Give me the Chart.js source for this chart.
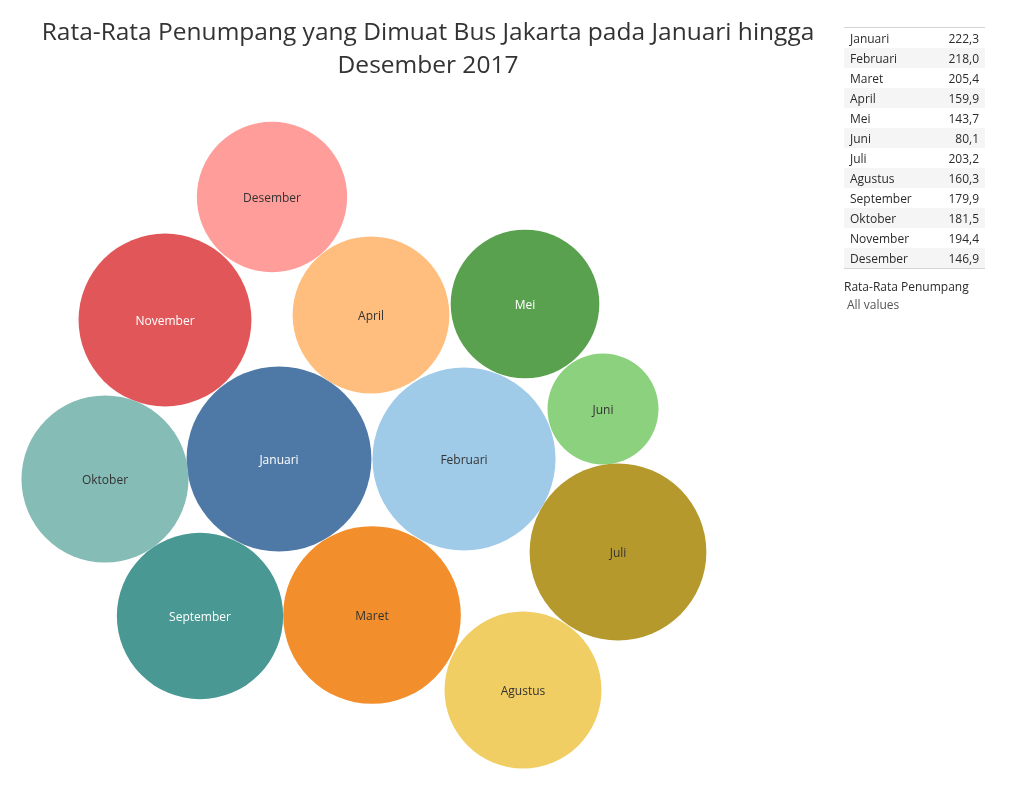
<!DOCTYPE html>
<html>
<head>
  <title>Rata-Rata Penumpang Bus Jakarta 2017</title>
  <script src="https://cdn.jsdelivr.net/npm/chart.js"></script>
  <style>
    body {
        margin: 0;
        background: #ffffff;
        font-family: 'Open Sans', sans-serif;
        color: #333333;
    }
    .wrap {
        position: relative;
        width: 1016px;
        height: 788px;
        overflow: hidden;
    }
    #bubbleChart {
        position: absolute;
        left: 0;
        top: 0;
    }
    .title {
        position: absolute;
        left: 20px;
        top: 14px;
        width: 816px;
        text-align: center;
        font-size: 24.5px;
        line-height: 33px;
        color: #333333;
    }
    /* Right side value table */
    .side {
        position: absolute;
        left: 844px;
        top: 27px;
        width: 141px;
        font-size: 12px;
    }
    .side table {
        width: 100%;
        border-collapse: collapse;
        border-top: 1px solid #d4d4d4;
        border-bottom: 1px solid #d4d4d4;
    }
    .side td {
        height: 20px;
        padding: 0 6px;
        color: #2b2b2b;
    }
    .side td.val { text-align: right; }
    .side tr:nth-child(even) td { background: #f5f5f5; }
    .legend-title { margin-top: 9px; font-size: 12px; color: #2b2b2b; }
    .legend-sub { margin-top: 1px; padding-left: 3px; font-size: 12px; color: #555555; }
  </style>
</head>
<body>
<div class="wrap">
  <canvas id="bubbleChart" width="1016" height="788"></canvas>
  <div class="title">Rata-Rata Penumpang yang Dimuat Bus Jakarta pada Januari hingga<br>Desember 2017</div>
  <div class="side">
    <table id="valueTable"></table>
    <div class="legend-title">Rata-Rata Penumpang</div>
    <div class="legend-sub">All values</div>
  </div>
</div>

<script>
  // data
  const months = ['Januari', 'Februari', 'Maret', 'April', 'Mei', 'Juni',
                  'Juli', 'Agustus', 'September', 'Oktober', 'November', 'Desember'];
  const passengers = [222.3, 218.0, 205.4, 159.9, 143.7, 80.1,
                      203.2, 160.3, 179.9, 181.5, 194.4, 146.9];

  // packed layout (bubble centres)
  const packX = [279, 464, 372, 371, 525, 603, 618, 523, 200, 105, 165, 272];
  const packY = [459, 459, 615, 315, 304, 409, 552, 690, 616, 479, 320, 197];

  const colors = ['#4E79A7', '#A0CBE8', '#F28E2B', '#FFBE7D', '#59A14F', '#8CD17D',
                  '#B6992D', '#F1CE63', '#499894', '#86BCB6', '#E15759', '#FF9D9A'];
  const labelColors = ['#ffffff', '#333333', '#333333', '#333333', '#ffffff', '#333333',
                       '#333333', '#333333', '#ffffff', '#333333', '#ffffff', '#333333'];

  // bubble area proportional to value
  const sizeFactor = 6.2;

  // table on the right
  const table = document.getElementById('valueTable');
  months.forEach((m, i) => {
      const tr = document.createElement('tr');
      tr.innerHTML = '<td>' + m + '</td><td class="val">' + passengers[i].toFixed(1).replace('.', ',') + '</td>';
      table.appendChild(tr);
  });

  const bubbleLabels = {
      id: 'bubbleLabels',
      afterDatasetsDraw(chart) {
          const ctx = chart.ctx;
          const meta = chart.getDatasetMeta(0);
          ctx.save();
          ctx.font = '12px "Open Sans", sans-serif';
          ctx.textAlign = 'center';
          ctx.textBaseline = 'middle';
          meta.data.forEach((el, i) => {
              ctx.fillStyle = labelColors[i];
              ctx.fillText(months[i], el.x, el.y + 2);
          });
          ctx.restore();
      }
  };

  new Chart(document.getElementById('bubbleChart'), {
      type: 'bubble',
      data: {
          labels: months,
          datasets: [{
              label: 'Rata-Rata Penumpang',
              data: months.map((m, i) => ({
                  x: packX[i],
                  y: packY[i],
                  r: sizeFactor * Math.sqrt(passengers[i])
              })),
              backgroundColor: colors,
              borderWidth: 0,
              hoverBorderWidth: 0
          }]
      },
      options: {
          responsive: false,
          animation: false,
          layout: { padding: 0, autoPadding: false },
          clip: false,
          scales: {
              x: { type: 'linear', min: 0, max: 1016, display: false },
              y: { type: 'linear', min: 0, max: 788, reverse: true, display: false }
          },
          plugins: {
              legend: { display: false },
              tooltip: { enabled: false }
          }
      },
      plugins: [bubbleLabels]
  });
</script>
</body>
</html>
